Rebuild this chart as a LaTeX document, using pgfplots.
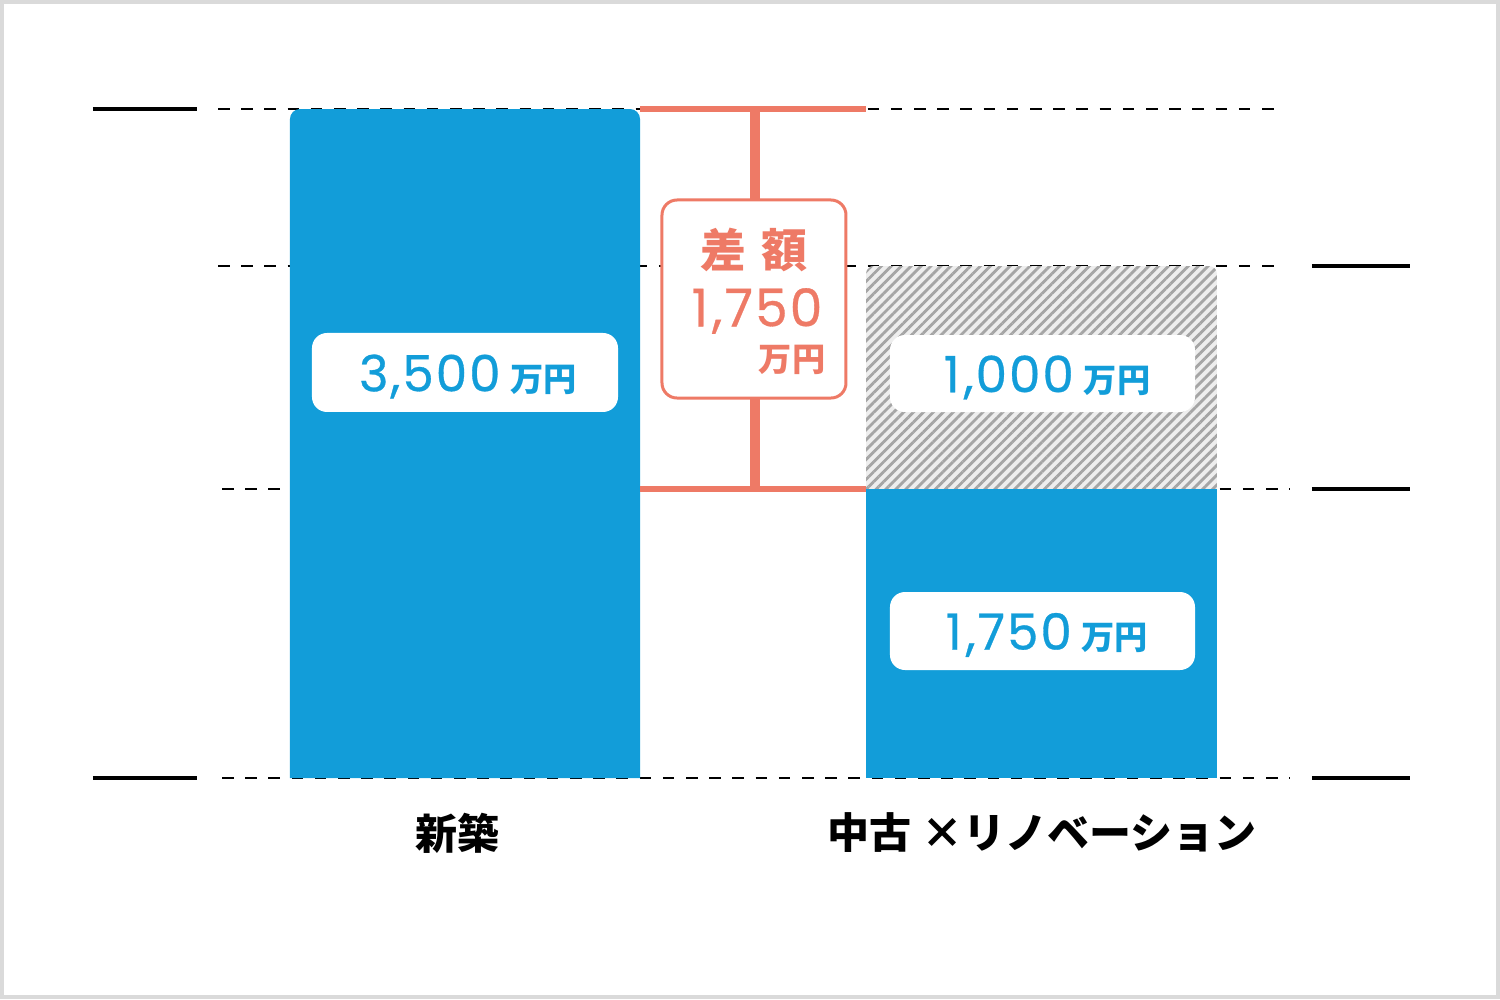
\documentclass[border=0pt]{standalone}
\usepackage{fontspec}
\usepackage{pgfplots}
\pgfplotsset{compat=1.18}
\usetikzlibrary{patterns.meta}
\newfontfamily\jp{Noto Sans CJK JP}
\newfontfamily\num[LetterSpace=4,FakeBold=0.6]{Poppins}
\definecolor{barblue}{HTML}{129DD9}
\definecolor{salmon}{HTML}{EE7A66}
\definecolor{framegray}{HTML}{DADADA}
\definecolor{hatchbg}{HTML}{EEEEEE}
\definecolor{hatchln}{HTML}{A5A5A5}
\begin{document}
\begin{tikzpicture}
\begin{axis}[
  at={(0,0)}, anchor=south west, scale only axis,
  width=375pt, height=249.75pt,
  xmin=-0.80659, xmax=1.79532, ymin=-1338.2, ymax=4020.7,
  hide axis, clip=false,
  y coord trafo/.code={\pgfmathparse{(#1<1750)?(#1*0.165143):((#1<2750)?(289+(#1-1750)*0.223):(512+(#1-2750)*0.209333))}},
  y coord inv trafo/.code={\pgfmathparse{(#1<289)?(#1/0.165143):((#1<512)?(1750+(#1-289)/0.223):(2750+(#1-512)/0.209333))}},
]
% frame
\draw[framegray, line width=0.9pt] ([xshift=0.45pt,yshift=0.45pt]rel axis cs:0,0) rectangle ([xshift=-0.45pt,yshift=-0.45pt]rel axis cs:1,1);
% dashed guide lines
\addplot[black, line width=0.55pt, dash pattern=on 2.9pt off 2.9pt] coordinates {(-0.4284,3500) (1.4137,3500)};
\addplot[black, line width=0.55pt, dash pattern=on 2.9pt off 2.9pt] coordinates {(-0.4284,2750) (1.4137,2750)};
\addplot[black, line width=0.55pt, dash pattern=on 2.9pt off 2.9pt] coordinates {(-0.4215,1750) (1.4310,1750)};
\addplot[black, line width=0.55pt, dash pattern=on 2.9pt off 2.9pt] coordinates {(-0.4215,0) (1.4310,0)};
% short solid marks
\addplot[black, line width=0.9pt] coordinates {(-0.6453,3500) (-0.4649,3500)};
\addplot[black, line width=0.9pt] coordinates {(-0.6453,0) (-0.4649,0)};
\addplot[black, line width=0.9pt] coordinates {(1.4692,2750) (1.6392,2750)};
\addplot[black, line width=0.9pt] coordinates {(1.4692,1750) (1.6392,1750)};
\addplot[black, line width=0.9pt] coordinates {(1.4692,0) (1.6392,0)};
% bar 1
\addplot[fill=barblue, draw=none, rounded corners=2.5pt] coordinates {(-0.3036,0) (-0.3036,3500) (0.3036,3500) (0.3036,0)};
\addplot[fill=barblue, draw=none] coordinates {(-0.3036,0) (-0.3036,3000) (0.3036,3000) (0.3036,0)};
% hatched part
\addplot[fill=hatchbg, draw=none, rounded corners=2pt] coordinates {(0.6956,1500) (0.6956,2750) (1.3044,2750) (1.3044,1500)};
\addplot[pattern={Lines[angle=45,distance=1.75pt,line width=0.7pt]}, pattern color=hatchln, draw=none, rounded corners=2pt] coordinates {(0.6956,1500) (0.6956,2750) (1.3044,2750) (1.3044,1500)};
% bar 2
\addplot[fill=barblue, draw=none] coordinates {(0.6956,0) (0.6956,1750) (1.3044,1750) (1.3044,0)};
% difference bracket
\addplot[salmon, line width=1.5pt] coordinates {(0.3036,3500) (0.6956,3500)};
\addplot[salmon, line width=1.5pt] coordinates {(0.3036,1750) (0.6956,1750)};
\addplot[salmon, line width=2.4pt] coordinates {(0.503,3500) (0.503,1750)};
\draw[salmon, fill=white, line width=0.75pt, rounded corners=3.75pt] (rel axis cs:0.44133,0.6016) rectangle (rel axis cs:0.564,0.7998);
\node[salmon, anchor=center] at (rel axis cs:0.50267,0.7497) {\jp\bfseries\fontsize{11.5}{13}\selectfont 差\hspace{4pt}額};
\node[salmon, anchor=center] at (rel axis cs:0.50467,0.6887) {\num\fontsize{13}{15}\selectfont 1\kern1pt,750};
\node[salmon, anchor=east, inner sep=0pt] at (rel axis cs:0.55067,0.6399) {\jp\bfseries\fontsize{8.3}{9}\selectfont 万円};
% value boxes
\fill[white, rounded corners=3.75pt] (rel axis cs:0.208,0.5876) rectangle (rel axis cs:0.412,0.66667);
\fill[white, rounded corners=3.75pt] (rel axis cs:0.59333,0.58759) rectangle (rel axis cs:0.79667,0.66466);
\fill[white, rounded corners=3.75pt] (rel axis cs:0.59333,0.32933) rectangle (rel axis cs:0.79667,0.40741);
\node[barblue] at (rel axis cs:0.312,0.6231) {{\num\fontsize{12.5}{14}\selectfont 3,500}\hspace{2.5pt}{\jp\bfseries\fontsize{8.3}{9}\selectfont 万円}};
\node[barblue] at (rel axis cs:0.698,0.6221) {{\num\fontsize{12.5}{14}\selectfont 1\kern1pt,000}\hspace{2.5pt}{\jp\bfseries\fontsize{8.3}{9}\selectfont 万円}};
\node[barblue] at (rel axis cs:0.698,0.3644) {{\num\fontsize{12.5}{14}\selectfont 1\kern1pt,750}\hspace{2.5pt}{\jp\bfseries\fontsize{8.3}{9}\selectfont 万円}};
% category labels
\node[black] at (rel axis cs:0.30533,0.16617) {\jp\bfseries\fontsize{10.5}{12}\selectfont 新築};
\node[black] at (rel axis cs:0.69467,0.16617) {\jp\bfseries\fontsize{10.5}{12}\selectfont 中古 ×リノベーション};
\end{axis}
\end{tikzpicture}
\end{document}
